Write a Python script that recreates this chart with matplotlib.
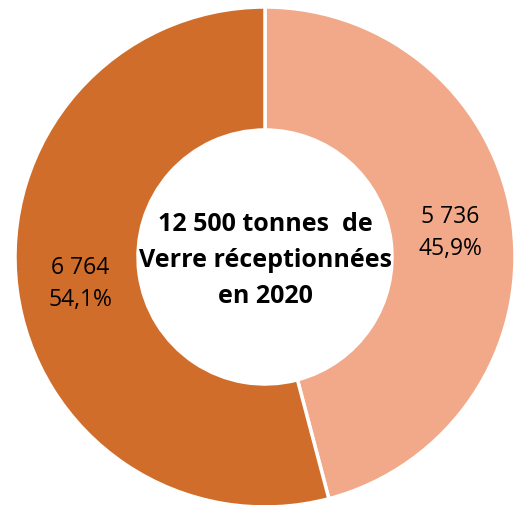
import matplotlib
matplotlib.use("Agg")
import matplotlib.pyplot as plt

values = [5736, 6764]
percents = ["45,9%", "54,1%"]
value_labels = ["5 736", "6 764"]
colors = ["#F1A98A", "#D06D2B"]
center_text = "12 500 tonnes  de\nVerre réceptionnées\nen 2020"

plt.rcParams['font.family'] = ['Open Sans', 'DejaVu Sans']

fig = plt.figure(figsize=(5.22, 5.06), dpi=100)
ax = fig.add_axes([0, 0, 1, 1])
R = 250.0
ax.pie(values, colors=colors, startangle=90, counterclock=False, radius=1.0,
       wedgeprops=dict(width=1 - 127 / R, edgecolor="white", linewidth=2.5))
ax.set_xlim(-265 / R, (522 - 265) / R)
ax.set_ylim(-(506 - 258) / R, 258 / R)
ax.set_aspect("auto")
ax.axis("off")

label_pos = [(0.74, 0.10), (-0.74, -0.105)]
for (x, y), v, p in zip(label_pos, value_labels, percents):
    ax.text(x, y, f"{v}\n{p}", ha="center", va="center", fontsize=16.5,
            linespacing=1.45, color="black")

ax.text(0, -0.01, center_text, ha="center", va="center", fontsize=18,
        fontweight="bold", linespacing=1.6, color="black")

fig.savefig("out.png", dpi=100)
